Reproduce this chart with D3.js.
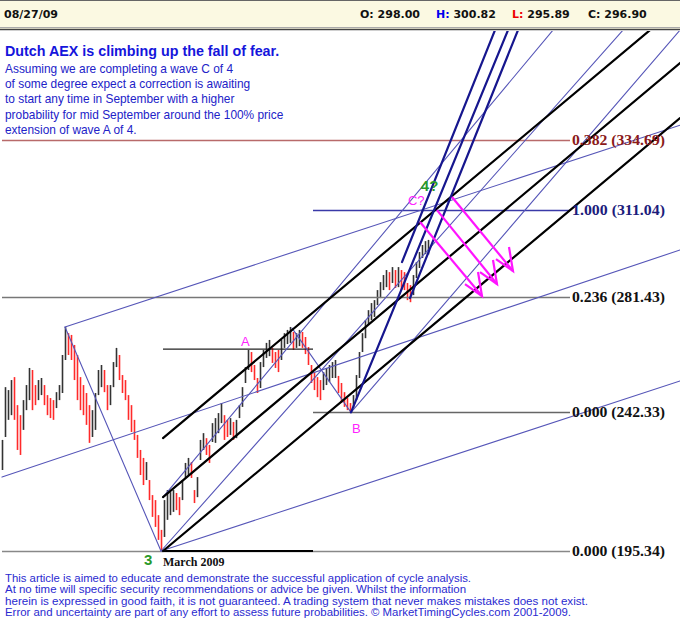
<!DOCTYPE html>
<html><head><meta charset="utf-8">
<script src="https://cdn.jsdelivr.net/npm/d3@7"></script>
<style>html,body{margin:0;padding:0;background:#fff;} svg{display:block;}</style>
</head><body><svg id="c" width="680" height="621"></svg>
<script>
// ---------- DATA ----------
const headerDate = "08/27/09";
const ohlcLabels = ["O:", "H:", "L:", "C:"];
const ohlcValues = ["298.00", "300.82", "295.89", "296.90"];

const titleText = "Dutch AEX is climbing up the fall of fear.";
const noteLines = [
  "Assuming we are completing a wave C of 4",
  "of some degree expect a correction is awaiting",
  "to start any time in September with a higher",
  "probability for mid September around the 100% price",
  "extension of wave A of 4."
];
const disclaimer = [
  "This article is aimed to educate and demonstrate the successful application of cycle analysis.",
  "At no time will specific security recommendations or advice be given. Whilst the information",
  "herein is expressed in good faith, it is not guaranteed. A trading system that never makes mistakes does not exist.",
  "Error and uncertainty are part of any effort to assess future probabilities. \u00A9 MarketTimingCycles.com 2001-2009."
];

// daily bars (bar index 0..142), highs and lows
const highs = [233.0, 250.9, 249.9, 253.3, 254.3, 244.8, 241.4, 246.5, 251.6, 257.4,
256.7, 251.6, 253.3, 254.0, 251.6, 248.2, 247.2, 246.5, 249.2, 251.6,
261.8, 271.3, 269.2, 268.6, 265.2, 261.8, 254.3, 251.6, 248.9, 244.8,
243.1, 248.9, 256.7, 258.4, 256.7, 251.6, 251.6, 259.4, 264.2, 261.8,
255.0, 253.3, 248.2, 244.8, 239.8, 234.7, 229.6, 226.9, 225.5, 219.4,
214.3, 212.6, 207.5, 202.5, 212.6, 216.0, 215.3, 216.0, 215.0, 213.6,
219.4, 225.2, 226.9, 225.5, 216.0, 220.4, 233.0, 235.3, 233.6, 231.3,
238.7, 240.4, 242.1, 245.5, 241.4, 239.8, 240.4, 239.1, 239.8, 244.8,
250.9, 257.7, 263.5, 262.8, 258.4, 254.0, 259.4, 263.5, 265.9, 266.9,
264.2, 262.8, 263.5, 266.9, 269.2, 270.3, 271.3, 269.6, 269.2, 270.3,
269.6, 267.9, 264.5, 258.4, 256.0, 254.3, 253.3, 256.0, 257.4, 258.4,
259.4, 260.1, 254.7, 252.3, 249.2, 247.2, 245.5, 248.2, 255.0, 262.8,
269.2, 273.6, 277.0, 279.4, 280.4, 283.8, 286.5, 288.9, 290.6, 289.9,
291.6, 290.6, 291.6, 290.6, 289.9, 286.2, 285.5, 288.9, 293.3, 296.7,
299.1, 300.4, 300.82];
const lows = [222.8, 234.0, 239.8, 241.4, 239.8, 229.6, 227.9, 236.4, 243.1, 246.5,
243.1, 244.8, 246.5, 248.2, 244.8, 241.4, 240.4, 239.8, 243.8, 246.5,
248.9, 260.1, 261.8, 260.1, 253.3, 246.5, 243.1, 241.4, 238.1, 232.0,
234.0, 236.4, 248.2, 250.9, 249.2, 243.1, 244.8, 250.9, 257.7, 253.3,
248.9, 246.5, 239.8, 235.7, 233.0, 226.9, 221.1, 217.7, 219.4, 212.6,
206.9, 203.5, 199.1, 195.34, 200.1, 205.9, 207.5, 208.6, 209.2, 207.5,
212.6, 220.1, 221.1, 220.1, 211.6, 213.6, 226.2, 229.6, 227.9, 225.2,
232.3, 232.0, 235.3, 238.7, 233.0, 234.0, 234.7, 233.0, 233.6, 240.4,
244.2, 252.3, 256.7, 256.0, 253.3, 248.9, 250.6, 257.7, 260.8, 261.4,
259.1, 257.4, 256.0, 260.1, 264.2, 265.5, 265.9, 263.5, 264.2, 264.8,
264.2, 262.1, 258.4, 252.3, 249.9, 247.5, 246.5, 249.9, 251.6, 252.6,
254.0, 254.0, 248.9, 245.5, 244.2, 243.1, 242.33, 243.8, 246.5, 254.0,
262.8, 267.5, 272.0, 273.6, 274.7, 278.7, 281.1, 283.8, 284.8, 283.8,
286.2, 284.5, 284.8, 283.8, 283.8, 280.4, 279.7, 282.1, 287.9, 291.3,
294.7, 296.0, 295.89];

// Fibonacci levels: ratio label, price, start bar index
const fibRatios = ["0.382", "1.000", "0.236", "0.000", "0.000"];
const fibPrices = [334.69, 311.04, 281.43, 242.33, 195.34];
const fibStart  = [0, 103.67, 0, 103.67, 0];
const fibEnd = 189.33;

// wave A level and March-low segment: [i1, price, i2]
const waveALevel = [53.67, 263.8, 103.67];
const marchLowSeg = [53.67, 195.34, 103.67];

// trend lines [i1, p1, i2, p2]
const thinBlueLines = [
  [21, 271.3, 226, 339.7],
  [0, 220.4, 226, 297.4],
  [53, 195.34, 226, 252.97],
  [21, 271.3, 53, 195.34],
  [53, 195.34, 207, 371.95],
  [53.67, 213.6, 183.67, 371.95],
  [116.33, 242.33, 226, 371.95],
  [96.67, 270.9, 116.33, 242.33]
];
const blackLines = [
  [53.67, 233.6, 216, 371.95],
  [53.67, 213.6, 226, 360.8],
  [53.67, 195.34, 226, 342.1]
];
const darkBlueLines = [
  [116.33, 242.33, 168.67, 371.95],
  [136, 281.1, 172, 371.95],
  [133.33, 293.3, 164.33, 371.95]
];
const arrowLines = [
  [139.33, 306.87, 160, 281.78],
  [145, 310.93, 165, 285.85],
  [150, 315.34, 170.33, 290.26]
];
// wave labels: [text, bar index, price, colour key]
const waveLabels = [
  ["A", 79.7, 264.8, "m"],
  ["B", 116.7, 235.3, "m"],
  ["C?", 135.3, 312.6, "m"],
  ["4?", 139.6, 317.4, "g"],
  ["3", 47.3, 190.6, "g"]
];

// ---------- DRAW ----------
const svg = d3.select("#c");
const W = 680, H = 621;
const x = d3.scaleLinear().domain([0, 226]).range([2, 680]);
const y = d3.scaleLinear().domain([195.34, 334.69]).range([551, 140]);

svg.append("rect").attr("width", W).attr("height", H).attr("fill", "#fff");

svg.append("defs").append("clipPath").attr("id", "plot")
  .append("rect").attr("x", 0).attr("y", 31).attr("width", W).attr("height", 526);

const plot = svg.append("g").attr("clip-path", "url(#plot)");

// price bars
const bars = highs.map((h, i) => ({i, h, l: lows[i]}));
plot.append("g").selectAll("line").data(bars).join("line")
  .attr("x1", d => x(d.i) + 0.5).attr("x2", d => x(d.i) + 0.5)
  .attr("y1", d => y(d.h)).attr("y2", d => y(d.l))
  .attr("stroke", d => (d.i > 0 && (d.h + d.l) < (highs[d.i-1] + lows[d.i-1])) ? "#ff2a2a" : "#333")
  .attr("stroke-width", 1.6);

// fib levels
const fibColors = ["#b86a6a", "#3a3aa8", "#777", "#666", "#888"];
const fibLabelColors = ["#8b1a1a", "#1c1c7c", "#111", "#111", "#111"];
fibPrices.forEach((p, k) => {
  plot.append("line").attr("x1", x(fibStart[k])).attr("x2", x(fibEnd))
    .attr("y1", Math.round(y(p)) + 0.5).attr("y2", Math.round(y(p)) + 0.5)
    .attr("stroke", fibColors[k]).attr("stroke-width", 1.3);
  svg.append("text").attr("x", x(fibEnd) + 2).attr("y", y(p) + 5)
    .attr("font-family", "Liberation Serif, serif").attr("font-weight", "bold")
    .attr("font-size", 15).attr("fill", fibLabelColors[k])
    .attr("textLength", 93).attr("lengthAdjust", "spacingAndGlyphs")
    .text(fibRatios[k] + " (" + p.toFixed(2) + ")");
});

plot.append("line").attr("x1", x(waveALevel[0])).attr("x2", x(waveALevel[2]))
  .attr("y1", y(waveALevel[1])).attr("y2", y(waveALevel[1]))
  .attr("stroke", "#222").attr("stroke-width", 1.3);
plot.append("line").attr("x1", x(marchLowSeg[0])).attr("x2", x(marchLowSeg[2]))
  .attr("y1", y(marchLowSeg[1])).attr("y2", y(marchLowSeg[1]))
  .attr("stroke", "#000").attr("stroke-width", 2.2);

function drawLines(data, color, width) {
  plot.append("g").selectAll("line").data(data).join("line")
    .attr("x1", d => x(d[0])).attr("y1", d => y(d[1]))
    .attr("x2", d => x(d[2])).attr("y2", d => y(d[3]))
    .attr("stroke", color).attr("stroke-width", width).attr("stroke-linecap", "round");
}
drawLines(thinBlueLines, "#5656b8", 1.1);
drawLines(blackLines, "#000", 2.2);
drawLines(darkBlueLines, "#16168e", 2.2);

// magenta arrows
const ag = plot.append("g").attr("stroke", "#ff14ff").attr("stroke-width", 2.2).attr("fill", "none");
arrowLines.forEach(d => {
  const x2 = x(d[2]), y2 = y(d[3]);
  ag.append("line").attr("x1", x(d[0])).attr("y1", y(d[1])).attr("x2", x2).attr("y2", y2);
  ag.append("path").attr("d", `M${x2-17},${y2-12}L${x2},${y2}L${x2-4},${y2-24}`);
});

// header
svg.append("rect").attr("x", 0).attr("y", 0).attr("width", W).attr("height", 29).attr("fill", "#fbf9e2");
svg.append("line").attr("x1", 0).attr("x2", W).attr("y1", 0.5).attr("y2", 0.5).attr("stroke", "#666");
svg.append("line").attr("x1", 0).attr("x2", W).attr("y1", 27.5).attr("y2", 27.5).attr("stroke", "#aaa");
svg.append("line").attr("x1", 0).attr("x2", W).attr("y1", 29.5).attr("y2", 29.5).attr("stroke", "#444").attr("stroke-width", 1.5);
const hf = "DejaVu Sans, sans-serif";
svg.append("text").attr("x", 4).attr("y", 18).attr("font-family", hf).attr("font-weight", "bold")
  .attr("font-size", 11).attr("fill", "#111").text(headerDate);
const ohlcColors = ["#111", "#0000ee", "#ee0000", "#111"];
ohlcLabels.forEach((lab, k) => {
  const t = svg.append("text").attr("x", 360 + k * 76).attr("y", 18).attr("font-family", hf)
    .attr("font-weight", "bold").attr("font-size", 11);
  t.append("tspan").attr("fill", ohlcColors[k]).text(lab);
  t.append("tspan").attr("fill", "#111").text(" " + ohlcValues[k]);
});

// title block
const sf = "Liberation Sans, Arial, sans-serif";
svg.append("text").attr("x", 5).attr("y", 56).attr("font-family", sf)
  .attr("font-weight", "bold").attr("font-size", 14.3).attr("fill", "#1515dc").text(titleText);
noteLines.forEach((t, k) => {
  svg.append("text").attr("x", 5).attr("y", 72.5 + k * 15.4)
    .attr("font-family", sf).attr("font-size", 11.9)
    .attr("fill", "#2222c8").text(t);
});

// wave labels
const labColor = {m: "#ff22ff", g: "#2a9a2a"};
waveLabels.forEach(d => {
  svg.append("text").attr("x", x(d[1])).attr("y", y(d[2]))
    .attr("font-family", sf)
    .attr("font-weight", d[3] === "g" ? "bold" : "normal")
    .attr("font-size", d[3] === "g" ? 15 : 13).attr("fill", labColor[d[3]]).text(d[0]);
});
svg.append("text").attr("x", x(53.67)).attr("y", 566).attr("font-family", "Liberation Serif, serif")
  .attr("font-weight", "bold").attr("font-size", 12).attr("fill", "#111").text("March 2009");

// disclaimer (stretched to the reference line widths)
const discWidths = [466, 461, 583, 566];
disclaimer.forEach((t, k) => {
  svg.append("text").attr("x", 5).attr("y", 581.5 + k * 11.6)
    .attr("font-family", sf).attr("font-size", 11.2)
    .attr("textLength", discWidths[k]).attr("lengthAdjust", "spacingAndGlyphs")
    .attr("fill", "#2a2ad0").text(t);
});
</script></body></html>
